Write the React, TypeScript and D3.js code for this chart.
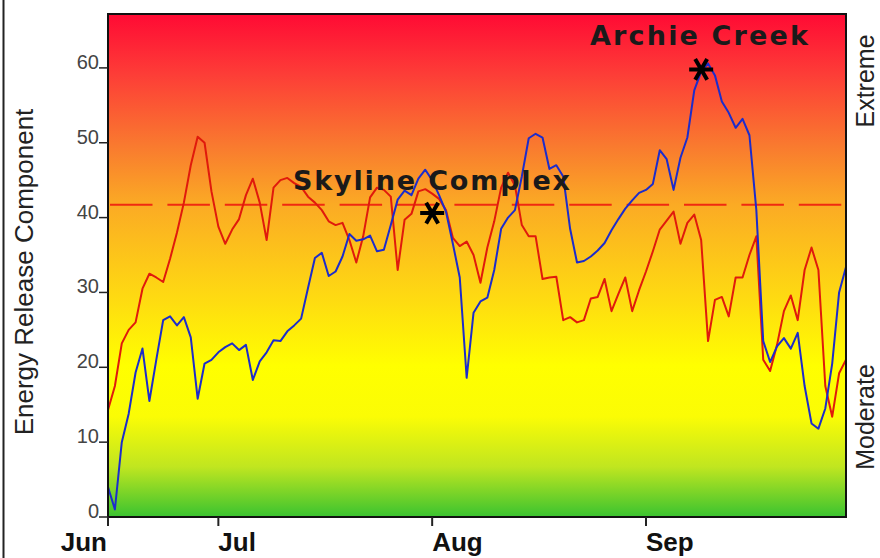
import { useEffect, useRef } from "react";
import * as d3 from "d3";

// daily ERC values, Jun 15 -> Sep 30
const startDate = new Date(2020, 5, 15);
const endDate = new Date(2020, 8, 30);

const redErc = [
  14.3, 17.5, 23.2, 25, 26, 30.5, 32.5, 32, 31.4, 34.5,
  38, 42, 47, 50.8, 50, 43.5, 38.8, 36.5, 38.4, 39.8,
  43, 45.2, 42, 37, 44, 45, 45.3, 44.6, 44.1, 42.8,
  42, 41, 39.5, 39, 39.3, 37, 34, 37.5, 42.7, 44,
  43.7, 42.8, 33, 39.7, 40.5, 43.5, 43.8, 43.2, 42.5, 41,
  37.3, 36.2, 36.8, 35, 31.3, 36, 39.5, 44, 46, 44.3,
  39, 37.5, 37.5, 31.8, 32, 32.1, 26.3, 26.7, 26, 26.3,
  29.2, 29.4, 31.8, 27.5, 29.8, 32, 27.5, 30.3, 32.8, 35.5,
  38.4, 39.6, 40.8, 36.5, 39.3, 40.4, 37, 23.5, 29, 29.4,
  26.8, 32, 32, 35, 37.5, 21, 19.5, 23, 27.5, 29.6,
  26.3, 33, 36, 33, 17.5, 13.4, 19.2, 21,
];

const blueErc = [
  4, 1, 10, 13.8, 19.3, 22.5, 15.5, 21, 26.3, 26.8,
  25.6, 26.7, 24, 15.8, 20.5, 21, 22, 22.7, 23.2, 22.3,
  23, 18.3, 20.8, 22, 23.6, 23.5, 24.8, 25.6, 26.5, 30.6,
  34.6, 35.3, 32.2, 32.8, 34.8, 37.8, 36.9, 37.1, 37.6, 35.5,
  35.7, 39, 42.4, 43.6, 43, 45.2, 46.4, 45, 43, 40.8,
  36.5, 32, 18.6, 27.3, 28.8, 29.3, 33, 38.5, 40, 41,
  45.5, 50.6, 51.2, 50.7, 46.5, 47, 45.5, 38.5, 34, 34.2,
  34.8, 35.6, 36.6, 38.3, 39.8, 41.2, 42.3, 43.3, 43.7, 44.5,
  49, 47.8, 43.7, 48, 50.7, 57, 59.5, 60.6, 59, 55.5,
  54, 52, 53.2, 51, 41, 23.5, 20.7, 22.8, 23.9, 22.5,
  24.6, 17.5, 12.5, 11.8, 14.5, 20.5, 30, 33.4,
];

const yTicks = [0, 10, 20, 30, 40, 50, 60];
const monthTicks = [startDate, new Date(2020, 6, 1), new Date(2020, 7, 1), new Date(2020, 8, 1)];
const monthLabels = ["Jun", "Jul", "Aug", "Sep"];
const thresholdValue = 41.7;
const fireNames = ["Skyline Complex", "Archie Creek"];
const fireDates = [new Date(2020, 7, 1), new Date(2020, 8, 9)];
const fireValues = [40.6, 59.8];

export default function App() {
  const svgRef = useRef<SVGSVGElement>(null);

  useEffect(() => {
    if (!svgRef.current) return;
    const svg = d3.select(svgRef.current);
    svg.selectAll("*").remove();

    const left = 108;
    const right = 846;
    const top = 14;
    const bottom = 517;

    const x = d3.scaleTime().domain([startDate, endDate]).range([left, right]);
    const y = d3.scaleLinear().domain([0, 67.2]).range([bottom, top]);

    const grad = svg
      .append("defs")
      .append("linearGradient")
      .attr("id", "bg")
      .attr("x1", 0)
      .attr("y1", 0)
      .attr("x2", 0)
      .attr("y2", 1);
    const stops: [number, string][] = [
      [0, "#ff0a34"],
      [0.12, "#fd3d37"],
      [0.26, "#f9792f"],
      [0.38, "#fbab24"],
      [0.56, "#fed912"],
      [0.7, "#ffff00"],
      [0.8, "#fbfc05"],
      [0.9, "#c0e620"],
      [1, "#3ac330"],
    ];
    grad
      .selectAll("stop")
      .data(stops)
      .join("stop")
      .attr("offset", (d) => d[0])
      .attr("stop-color", (d) => d[1]);

    // outer frame line on the far left
    svg
      .append("line")
      .attr("x1", 3.5)
      .attr("x2", 3.5)
      .attr("y1", 0)
      .attr("y2", 558)
      .attr("stroke", "#222")
      .attr("stroke-width", 2);

    svg
      .append("rect")
      .attr("x", left)
      .attr("y", top)
      .attr("width", right - left)
      .attr("height", bottom - top)
      .attr("fill", "url(#bg)");

    svg
      .append("line")
      .attr("x1", left)
      .attr("x2", right - 4)
      .attr("y1", y(thresholdValue))
      .attr("y2", y(thresholdValue))
      .attr("stroke", "#f02a10")
      .attr("stroke-width", 2)
      .attr("stroke-dasharray", "42.5 14.9")
      .attr("stroke-dashoffset", 55.4);

    const dayDate = (i: number) => d3.timeDay.offset(startDate, i);
    const line = d3
      .line<number>()
      .x((_d, i) => x(dayDate(i)))
      .y((d) => y(d));

    svg
      .append("path")
      .attr("d", line(redErc))
      .attr("fill", "none")
      .attr("stroke", "#e01a0c")
      .attr("stroke-width", 2)
      .attr("stroke-linejoin", "round");

    svg
      .append("path")
      .attr("d", line(blueErc))
      .attr("fill", "none")
      .attr("stroke", "#1c2ccc")
      .attr("stroke-width", 2)
      .attr("stroke-linejoin", "round");

    svg
      .append("rect")
      .attr("x", left)
      .attr("y", top)
      .attr("width", right - left)
      .attr("height", bottom - top)
      .attr("fill", "none")
      .attr("stroke", "#111")
      .attr("stroke-width", 2);

    // y axis
    const yAxis = svg.append("g").attr("font-family", "Arial, 'Liberation Sans', sans-serif");
    yAxis
      .selectAll("line")
      .data(yTicks)
      .join("line")
      .attr("x1", left - 9)
      .attr("x2", left)
      .attr("y1", (d) => y(d))
      .attr("y2", (d) => y(d))
      .attr("stroke", "#222")
      .attr("stroke-width", 1.5);
    yAxis
      .selectAll("text")
      .data(yTicks)
      .join("text")
      .attr("x", left - 9)
      .attr("y", (d) => y(d) + 1)
      .attr("text-anchor", "end")
      .attr("font-size", 20)
      .attr("fill", "#444")
      .text((d) => d);

    // x axis
    const xAxis = svg.append("g").attr("font-family", "Arial, 'Liberation Sans', sans-serif");
    xAxis
      .selectAll("line")
      .data(monthTicks)
      .join("line")
      .attr("x1", (d) => x(d))
      .attr("x2", (d) => x(d))
      .attr("y1", bottom)
      .attr("y2", bottom + 9)
      .attr("stroke", "#222")
      .attr("stroke-width", 2);
    xAxis
      .selectAll("text")
      .data(monthTicks)
      .join("text")
      .attr("x", (d, i) => (i === 0 ? x(d) - 1 : x(d)))
      .attr("y", 551)
      .attr("text-anchor", (_d, i) => (i === 0 ? "end" : "start"))
      .attr("font-size", 26)
      .attr("font-weight", "bold")
      .attr("fill", "#111")
      .text((_d, i) => monthLabels[i]);

    // axis titles
    svg
      .append("text")
      .attr("transform", `translate(33,272) rotate(-90)`)
      .attr("text-anchor", "middle")
      .attr("font-family", "Arial, 'Liberation Sans', sans-serif")
      .attr("font-size", 26)
      .attr("fill", "#222")
      .text("Energy Release Component");

    const sideLabels = [
      { text: "Extreme", y: 81 },
      { text: "Moderate", y: 417 },
    ];
    svg
      .selectAll("text.side")
      .data(sideLabels)
      .join("text")
      .attr("class", "side")
      .attr("transform", (d) => `translate(874,${d.y}) rotate(-90)`)
      .attr("text-anchor", "middle")
      .attr("font-family", "Arial, 'Liberation Sans', sans-serif")
      .attr("font-size", 25)
      .attr("fill", "#222")
      .text((d) => d.text);

    // fire start markers
    const star = d3.symbol(d3.symbolAsterisk, 407);
    svg
      .selectAll("path.fire")
      .data(fireDates)
      .join("path")
      .attr("class", "fire")
      .attr("d", star)
      .attr("transform", (d, i) => `translate(${x(d)},${y(fireValues[i])}) rotate(90)`)
      .attr("fill", "none")
      .attr("stroke", "#000")
      .attr("stroke-width", 4);

    const labelPos = [
      { x: 293, y: 190, w: 277 },
      { x: 590, y: 45, w: 218 },
    ];
    svg
      .selectAll("text.fire")
      .data(fireNames)
      .join("text")
      .attr("class", "fire")
      .attr("x", (_d, i) => labelPos[i].x)
      .attr("y", (_d, i) => labelPos[i].y)
      .attr("textLength", (_d, i) => labelPos[i].w)
      .attr("lengthAdjust", "spacing")
      .attr("font-family", "'DejaVu Sans', Verdana, sans-serif")
      .attr("font-size", 27)
      .attr("font-weight", "bold")
      .attr("fill", "#1a1a1a")
      .text((d) => d);
  }, []);

  return (
    <svg
      ref={svgRef}
      width={880}
      height={558}
      style={{ position: "absolute", left: 0, top: 0, background: "#fff" }}
    />
  );
}
